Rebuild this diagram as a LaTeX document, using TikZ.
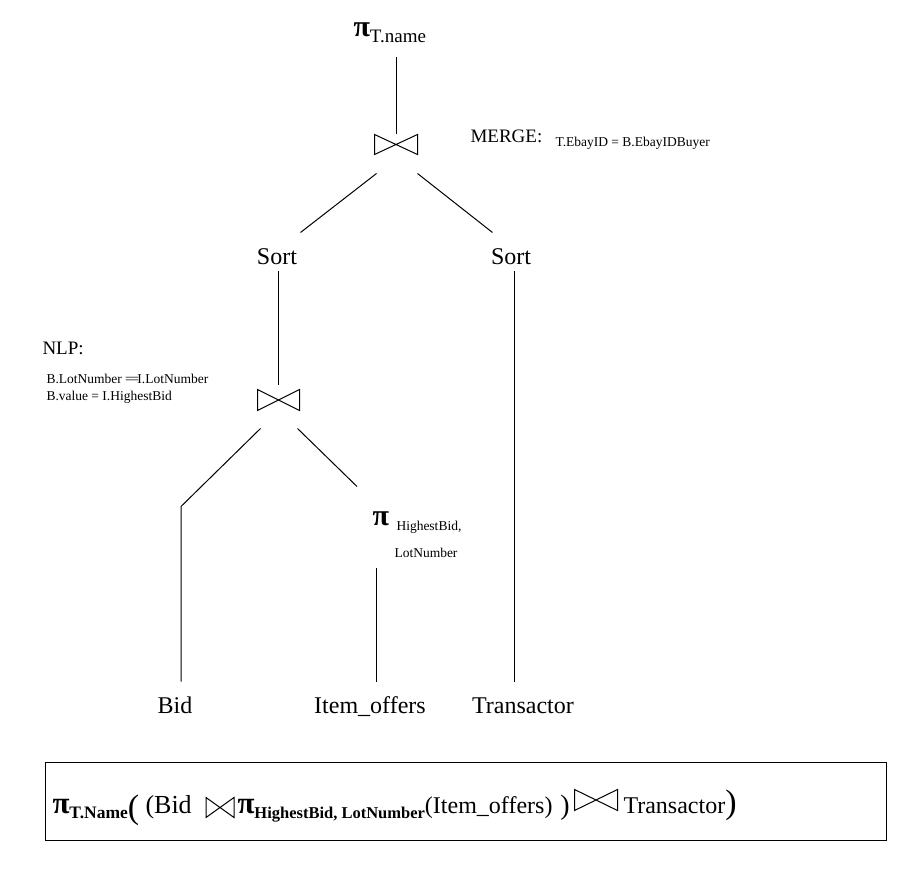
\documentclass[tikz,border=0pt]{standalone}
\usepackage{fontspec}
\setmainfont{Liberation Serif}
\usetikzlibrary{calc}

% bow-tie join symbol drawn inside an empty node
\newcommand{\joinshape}[1]{%
  \draw (#1.north west) -- (#1.center) -- (#1.south west) -- cycle
        (#1.north east) -- (#1.center) -- (#1.south east) -- cycle;}

\begin{document}
\begin{tikzpicture}[x=1pt, y=-1pt, line width=1pt,
  every node/.style={inner sep=0pt},
  lbl/.style={font=\fontsize{24}{28}\selectfont, text height=17pt, text depth=5pt, anchor=base},
  note/.style={font=\fontsize{19}{22}\selectfont, anchor=base west},
  cond/.style={font=\fontsize{13.5}{16}\selectfont, anchor=base west},
  joinbox/.style={minimum width=42pt, minimum height=19pt}]
\useasboundingbox (0,0) rectangle (903,869);

% Projection on top
\node[anchor=base west, text height=12pt, text depth=6pt] (piTop) at (353,37)
  {{\fontsize{30}{30}\selectfont\bfseries π}{\fontsize{19}{19}\selectfont\raisebox{-6pt}{T.name}}};

% Joins
\node[joinbox] (j1) at (396,144.5) {};
\joinshape{j1}
\node[joinbox, minimum width=41pt, minimum height=20pt] (j2) at (278.5,400) {};
\joinshape{j2}

% Sorts and relations
\node[lbl] (sortL) at (277,265) {Sort};
\node[lbl] (sortR) at (511,265) {Sort};
\node[lbl] (bid) at (175,713) {Bid};
\node[lbl] (item) at (370,713) {Item\_offers};
\node[lbl] (trans) at (523,713) {Transactor};

% Projection over Item_offers
\node[anchor=base west, text height=12pt, text depth=0pt] (piHB) at (372,525)
  {\fontsize{30}{30}\selectfont\bfseries π};
\node[cond] (hb1) at (396,530) {HighestBid,};
\node[cond] (hb2) at (394,557) {LotNumber};

% Join conditions
\node[note] (merge) at (470,143) {MERGE:};
\node[cond] (mergeCond) at (555,147) {T.EbayID = B.EbayIDBuyer};
\node[note] (nlp) at (42,355) {NLP:};
\node[cond] (nlpCond1) at (46,383) {B.LotNumber =\kern-1.5pt=\kern-1.5ptI.LotNumber};
\node[cond] (nlpCond2) at (46,400) {B.value = I.HighestBid};

% Tree edges
\draw ($(piTop.south -| j1.north)+(0,14)$) -- (j1.north);
\draw ($(j1.south west)+(2,19)$) -- ($(sortL.north east)+(3,-15)$);
\draw ($(j1.south east)+(0,19)$) -- ($(sortR.north west)+(2,-15)$);
\draw ($(sortL.south -| j2.north)+(0,1)$) -- ($(j2.north)+(0,-5)$);
\draw ($(sortR.south)+(3,1)$) -- ($(sortR.south |- trans.north)+(3,-14)$);
\draw ($(j2.south west)+(3,18)$) -- ($(bid.north)+(6,-189)$) -- ($(bid.north)+(6,-14)$);
\draw ($(j2.south east)+(-2,18)$) -- ($(piHB.north west)+(-15,-26)$);
\draw ($(piHB.south)+(-4,42)$) -- ($(piHB.south |- item.north)+(-4,-14)$);

% Expression box
\node[draw, line width=1.3pt, minimum width=841pt, minimum height=78pt, anchor=north west] (box) at (45,762) {};
\node[anchor=base west] (fA) at (52,813)
  {{\fontsize{31}{31}\selectfont\bfseries π}\raisebox{-5pt}{\fontsize{17.5}{17.5}\selectfont\bfseries T.Name}\raisebox{-5pt}{\fontsize{34}{34}\selectfont(}};
\node[anchor=base west] (fBid) at (145,813) {\fontsize{26}{26}\selectfont(Bid};
\node[joinbox, minimum width=27pt, minimum height=19pt] (fj1) at (220,807.5) {};
\joinshape{fj1}
\node[anchor=base west] (fB) at (237,813)
  {{\fontsize{31}{31}\selectfont\bfseries π}\raisebox{-5pt}{\fontsize{16.5}{16.5}\selectfont\bfseries HighestBid, LotNumber}{\fontsize{24}{24}\selectfont(Item\_offers)}\hspace{8pt}\raisebox{-1pt}{\fontsize{28}{28}\selectfont)}};
\node[joinbox, minimum width=42pt, minimum height=20pt] (fj2) at (596,800) {};
\joinshape{fj2}
\node[anchor=base west] (fC) at (623,813)
  {{\fontsize{24}{24}\selectfont Transactor}{\fontsize{34}{34}\selectfont)}};
\end{tikzpicture}
\end{document}
